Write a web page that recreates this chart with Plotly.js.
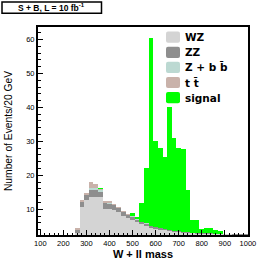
<!DOCTYPE html>
<html>
<head>
<meta charset="utf-8">
<script src="https://cdn.plot.ly/plotly-3.0.1.min.js"></script>
<style>html,body{margin:0;padding:0;background:#fff;}#chart{width:263px;height:263px;}</style>
</head>
<body>
<div id="chart"></div>
<script>
// 20 GeV bins (bin centres, GeV)
const massBinCenter = [120,140,160,180,200,220,240,260,280,300,320,340,360,380,400,420,440,460,480,500,520,540,560,580,600,620,640,660,680,700,720,740,760,780,800,820,840,860,880,900,920,940,960,980,1000];
const wzEvents  = [0,0,0,0,0,0,0.8,2.9,10.7,12.8,13.6,13.6,13.6,10.2,10.0,9.7,9.2,7.9,7.3,6.8,6.3,5.6,5.0,4.6,4.3,4.0,3.8,3.6,3.4,3.2,3.1,3.0,2.9,2.8,2.8,2.7,2.7,2.6,2.6,2.6,2.6,2.5,2.5,2.5,2.5];
const zzEvents  = [0,0,0,0,0,0,0.2,1.0,1.4,1.3,2.0,2.0,1.6,1.5,1.5,1.4,1.2,1.3,1.0,1.0,0.6,0.6,0.7,0.5,0.5,0.4,0.4,0.4,0.3,0.3,0.3,0.2,0.2,0.2,0.2,0.2,0.2,0.2,0.2,0.2,0.2,0.2,0.2,0.2,0.2];
const zbbEvents = [0,0,0,0,0,0,0,0.1,0.1,0.1,0.7,0.6,0.5,0.1,0.2,0.1,0.1,0.1,0.1,0.1,0.1,0.1,0.1,0,0,0,0,0,0,0,0,0,0,0,0,0,0,0,0,0,0,0,0,0,0];
const ttEvents  = [0,0,0,0,0,0,0,0.6,0.6,0.6,1.6,1.3,0.3,0.7,0.6,0.2,0.1,0.1,0.1,0,0,0,0,0,0,0,0,0,0,0,0,0,0,0,0,0,0,0,0,0,0,0,0,0,0];
const signalEvents = [0,0,0,0,0,0,0,0,0,0,0,0,0.4,0,0,0,0.2,0,0,1.0,0.6,5.4,16.2,55.4,25.2,23.6,21.2,36.2,27.3,24.5,24.4,12.6,3.7,3.8,1.2,1.7,1.7,1.1,0.8,0,0,0,0,0,0];

const seriesNames  = ['WZ','ZZ','Z + b b\u0304','t t\u0304','signal'];
const seriesColors = ['#d4d4d4','#8e8e8e','#bcd9d2','#c9b2aa','#00ff00'];
const seriesValues = [wzEvents, zzEvents, zbbEvents, ttEvents, signalEvents];

const xTickVals = [100,200,300,400,500,600,700,800,900,1000];
const yTickVals = [10,20,30,40,50,60];

const traces = seriesValues.map((vals, k) => ({
  type: 'bar',
  x: massBinCenter,
  y: vals,
  width: 20,
  name: seriesNames[k],
  marker: {color: seriesColors[k], line: {width: 0}},
  showlegend: false,
  hoverinfo: 'skip'
}));

// pixel -> paper helpers for the plot frame
const M = {l: 38, r: 15, t: 27, b: 28};
const PW = 263 - M.l - M.r, PH = 263 - M.t - M.b;
const px = p => (p - M.l) / PW;
const py = p => (M.t + PH - p) / PH;

function roundRect(x0, y0, x1, y1, r) {
  const rx = r / PW, ry = r / PH;
  const X0 = px(x0), X1 = px(x1), Y0 = py(y0), Y1 = py(y1);
  return `M${X0+rx},${Y0} L${X1-rx},${Y0} Q${X1},${Y0} ${X1},${Y0-ry} L${X1},${Y1+ry} Q${X1},${Y1} ${X1-rx},${Y1} L${X0+rx},${Y1} Q${X0},${Y1} ${X0},${Y1+ry} L${X0},${Y0-ry} Q${X0},${Y0} ${X0+rx},${Y0} Z`;
}

const shapes = [];
const annotations = [];
// key built from series names / colours
[0,1,2,3,4].forEach((k, row) => {
  const cy = 37.2 + 15.1 * row;
  shapes.push({type: 'path', xref: 'paper', yref: 'paper',
    path: roundRect(166, cy - 5.6, 180, cy + 5.6, 2),
    fillcolor: seriesColors[k], line: {width: 0}});
  annotations.push({xref: 'paper', yref: 'paper', x: px(182.5), y: py(cy),
    xanchor: 'left', yanchor: 'middle', showarrow: false,
    text: '<b>' + seriesNames[k] + '</b>',
    font: {family: 'DejaVu Sans, Liberation Sans, Arial, sans-serif', size: 10.5, color: '#000'}});
});
// luminosity box
shapes.push({type: 'rect', xref: 'paper', yref: 'paper',
  x0: px(2), x1: px(101.5), y0: py(13.3), y1: py(2),
  line: {color: '#000', width: 1.5}, fillcolor: '#fff'});
annotations.push({xref: 'paper', yref: 'paper', x: px(51.5), y: py(7.6),
  xanchor: 'center', yanchor: 'middle', showarrow: false,
  text: '<b>S + B, L = 10 fb<sup>-1</sup></b>',
  font: {family: 'Liberation Sans, Arial, sans-serif', size: 8.5, color: '#000'}});

const axisCommon = {
  showline: true, linewidth: 2, linecolor: '#000', mirror: true,
  ticks: 'inside', ticklen: 5, tickwidth: 1, tickcolor: '#000',
  showgrid: false, zeroline: false, fixedrange: true,
  tickfont: {family: 'Liberation Sans, Arial, sans-serif', size: 7.5, color: '#000'}
};

const layout = {
  width: 263, height: 263,
  margin: M,
  paper_bgcolor: '#fff', plot_bgcolor: '#fff',
  barmode: 'stack', bargap: 0,
  showlegend: false,
  xaxis: Object.assign({}, axisCommon, {
    range: [90, 1000.5], tickmode: 'array', tickvals: xTickVals,
    minor: {ticks: 'inside', ticklen: 2.5, tickwidth: 1, tickcolor: '#000', tick0: 100, dtick: 20, showgrid: false},
    title: {text: '<b>W + ll mass</b>', standoff: 1,
      font: {family: 'Liberation Sans, Arial, sans-serif', size: 11, color: '#000'}}
  }),
  yaxis: Object.assign({}, axisCommon, {
    range: [2.4, 63.7], tickmode: 'array', tickvals: yTickVals,
    minor: {ticks: 'inside', ticklen: 2.5, tickwidth: 1, tickcolor: '#000', tick0: 0, dtick: 2, showgrid: false},
    title: {text: 'Number of Events/20 GeV', standoff: 12,
      font: {family: 'Liberation Sans, Arial, sans-serif', size: 10.3, color: '#000'}}
  }),
  shapes: shapes,
  annotations: annotations
};

Plotly.newPlot('chart', traces, layout, {staticPlot: true, displayModeBar: false});
</script>
</body>
</html>
